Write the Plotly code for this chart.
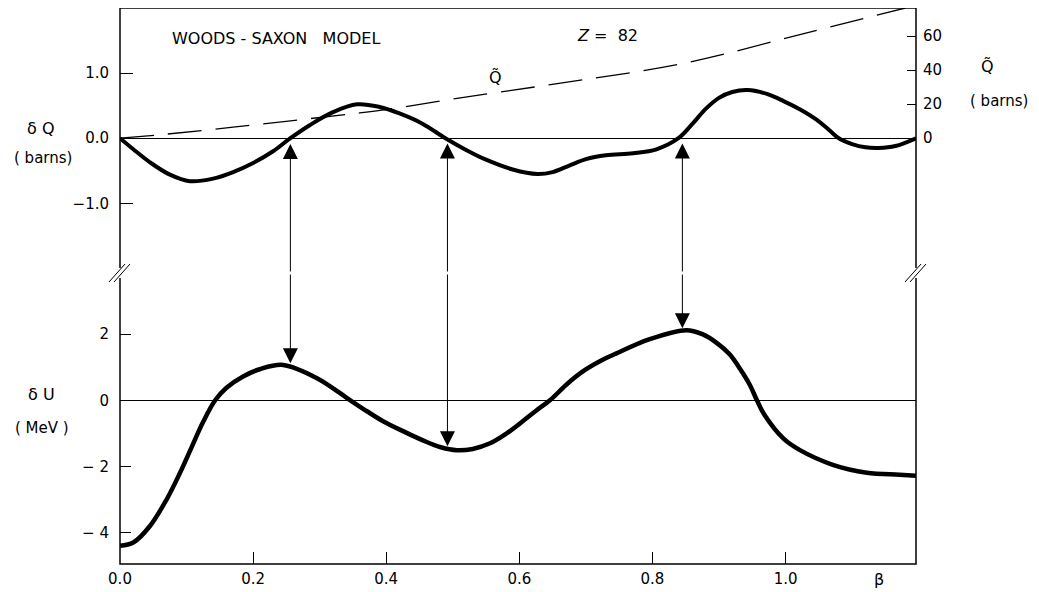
import plotly.graph_objects as go

# ---------------- data ----------------
beta_dq = [0.0, 0.02, 0.045, 0.075, 0.105, 0.14, 0.17, 0.20, 0.23, 0.256, 0.285,
           0.32, 0.356, 0.39, 0.42, 0.455, 0.489, 0.52, 0.55, 0.59, 0.627, 0.65,
           0.675, 0.70, 0.73, 0.771, 0.806, 0.839, 0.86, 0.88, 0.90, 0.92, 0.943,
           0.972, 0.997, 1.022, 1.047, 1.065, 1.08, 1.10, 1.12, 1.14, 1.165, 1.196]
delta_q = [0.0, -0.17, -0.37, -0.56, -0.66, -0.62, -0.52, -0.38, -0.20, 0.0, 0.20,
           0.40, 0.52, 0.48, 0.38, 0.22, 0.0, -0.18, -0.33, -0.48, -0.55, -0.52,
           -0.42, -0.32, -0.26, -0.23, -0.17, 0.0, 0.22, 0.45, 0.62, 0.71, 0.74,
           0.68, 0.57, 0.44, 0.28, 0.13, 0.0, -0.09, -0.14, -0.15, -0.12, 0.0]

beta_qt = [0.0, 0.07, 0.17, 0.346, 0.396, 0.5, 0.647, 0.847, 1.023, 1.18]
q_tilde = [0.0, 2.4, 6.5, 14.2, 16.6, 23.0, 31.5, 44.0, 61.0, 76.5]

beta_du = [0.0, 0.02, 0.045, 0.07, 0.09, 0.108, 0.125, 0.143, 0.16, 0.185, 0.21,
           0.245, 0.296, 0.346, 0.371, 0.396, 0.426, 0.456, 0.482, 0.506, 0.53,
           0.556, 0.581, 0.606, 0.626, 0.646, 0.671, 0.696, 0.721, 0.746, 0.796,
           0.851, 0.875, 0.897, 0.916, 0.931, 0.946, 0.957, 0.968, 0.997, 1.021,
           1.071, 1.122, 1.171, 1.196]
delta_u = [-4.4, -4.3, -3.8, -3.0, -2.2, -1.4, -0.65, 0.0, 0.38, 0.72, 0.94,
           1.07, 0.67, 0.0, -0.33, -0.64, -0.94, -1.22, -1.42, -1.51, -1.47,
           -1.3, -1.0, -0.62, -0.3, 0.0, 0.48, 0.88, 1.18, 1.42, 1.85,
           2.12, 2.0, 1.73, 1.39, 0.97, 0.48, 0.0, -0.43, -1.16, -1.5,
           -1.95, -2.19, -2.25, -2.28]

# arrows connecting zeros of dQ with extrema of dU
arrow_beta = [0.256, 0.492, 0.845]
arrow_dq_tip = [-0.09, -0.08, -0.08]
arrow_du_tip = [1.12, -1.39, 2.18]

x_ticks = [0.0, 0.2, 0.4, 0.6, 0.8, 1.0]
x_ticktext = ["0.0", "0.2", "0.4", "0.6", "0.8", "1.0"]
dq_ticks = [-1.0, 0.0, 1.0]
dq_ticktext = ["\u22121.0", "0.0", "1.0"]
qt_ticks = [0, 20, 40, 60]
qt_ticktext = ["0", "20", "40", "60"]
du_ticks = [-4, -2, 0, 2]
du_ticktext = ["\u2212 4", "\u2212 2", "0", "2"]

# ---------------- layout geometry ----------------
# the page body adds an 8px offset, so the figure is 8px smaller than the window
W, H = 1031, 584
ML, MT = 112, 0
PW, PH = 796, 556
MR, MB = W - ML - PW, H - MT - PH
REF_L, REF_B = 120, 563          # plot-area corner in window pixels
SPLIT = (REF_B - 272) / PH       # break between the two panels
X_RANGE = [0.0, 1.196]
DQ_RANGE = [-2.07, 2.0]
QT_RANGE = [-79.2, 76.5]
DU_RANGE = [-4.95, 3.85]

FONT = "DejaVu Sans"
FS = 15


def px(x):
    return (x - REF_L) / PW


def py(y):
    return (REF_B - y) / PH


fig = go.Figure()

fig.add_trace(go.Scatter(x=beta_qt, y=q_tilde, xaxis="x", yaxis="y3", mode="lines",
                         line=dict(color="black", width=1.3, dash="34px,14px", shape="spline"),
                         showlegend=False, hoverinfo="skip"))
fig.add_trace(go.Scatter(x=beta_dq, y=delta_q, xaxis="x", yaxis="y2", mode="lines",
                         line=dict(color="black", width=4, shape="spline", smoothing=1.0),
                         showlegend=False))
fig.add_trace(go.Scatter(x=beta_du, y=delta_u, xaxis="x", yaxis="y", mode="lines",
                         line=dict(color="black", width=4.5, shape="spline", smoothing=1.0),
                         showlegend=False))

annotations = []
for b, tq, tu in zip(arrow_beta, arrow_dq_tip, arrow_du_tip):
    annotations.append(dict(x=b, y=tq, xref="x", yref="y2", ax=b, ay=DQ_RANGE[0],
                            axref="x", ayref="y2", showarrow=True, arrowhead=2,
                            arrowsize=3.0, arrowwidth=1, arrowcolor="black", text=""))
    annotations.append(dict(x=b, y=tu, xref="x", yref="y", ax=b, ay=DU_RANGE[1],
                            axref="x", ayref="y", showarrow=True, arrowhead=2,
                            arrowsize=3.0, arrowwidth=1, arrowcolor="black", text=""))


def label(text, x, y, size=FS, xanchor="center"):
    annotations.append(dict(text=text, x=px(x), y=py(y), xref="paper", yref="paper",
                            showarrow=False, xanchor=xanchor, yanchor="middle",
                            font=dict(family=FONT, size=size, color="black")))


label("WOODS - SAXON \u00a0 MODEL", 276, 37, size=16)
label("<i>Z</i> = \u00a082", 607, 34, size=16)
label("Q\u0303", 495, 76, size=16)
label("Q\u0303", 987, 65, size=16)
label("( barns)", 999, 100)
label("\u03b4 Q", 40, 127, size=16)
label("( barns)", 43, 157)
label("\u03b4 U", 41, 393, size=16)
label("( MeV )", 42, 427)
annotations.append(dict(text="\u03b2", x=1.14, y=0, xref="x", yref="paper",
                        yshift=-15, showarrow=False, yanchor="middle",
                        font=dict(family=FONT, size=FS + 1, color="black")))

shapes = [dict(type="rect", xref="paper", yref="paper", x0=0, x1=1, y0=0, y1=1,
               line=dict(color="black", width=1.5), layer="above")]
for xa in (0, 1):
    shapes.append(dict(type="line", xref="paper", yref="paper", xsizemode="pixel",
                       ysizemode="pixel", xanchor=xa, yanchor=SPLIT,
                       x0=0, x1=0, y0=-5, y1=5,
                       line=dict(color="white", width=4), layer="above"))
    for off in (-3, 2):
        shapes.append(dict(type="line", xref="paper", yref="paper", xsizemode="pixel",
                           ysizemode="pixel", xanchor=xa, yanchor=SPLIT,
                           x0=off - 8, x1=off + 8, y0=-9, y1=9,
                           line=dict(color="black", width=1), layer="above"))

tickfont = dict(family=FONT, size=FS, color="black")

fig.update_layout(
    width=W, height=H,
    margin=dict(l=ML, r=MR, t=MT, b=MB, autoexpand=False),
    paper_bgcolor="white", plot_bgcolor="white",
    showlegend=False,
    xaxis=dict(domain=[0, 1], range=X_RANGE, anchor="y", tickvals=x_ticks,
               ticktext=x_ticktext, ticks="inside", ticklen=12, tickwidth=1,
               tickcolor="black", showgrid=False, zeroline=False, showline=False,
               tickfont=tickfont, ticklabelstandoff=4),
    yaxis=dict(domain=[0, SPLIT], range=DU_RANGE, anchor="x", tickvals=du_ticks,
               ticktext=du_ticktext, ticks="inside", ticklen=11, tickwidth=1,
               tickcolor="black", showgrid=False, zeroline=True, zerolinecolor="black",
               zerolinewidth=1.2, showline=False, tickfont=tickfont,
               ticklabelstandoff=10),
    yaxis2=dict(domain=[SPLIT, 1], range=DQ_RANGE, anchor="x", tickvals=dq_ticks,
                ticktext=dq_ticktext, ticks="inside", ticklen=13, tickwidth=1,
                tickcolor="black", showgrid=False, zeroline=True, zerolinecolor="black",
                zerolinewidth=1.2, showline=False, tickfont=tickfont,
                ticklabelstandoff=10),
    yaxis3=dict(overlaying="y2", side="right", range=QT_RANGE, anchor="x",
                tickvals=qt_ticks, ticktext=qt_ticktext, ticks="inside", ticklen=9,
                tickwidth=1, tickcolor="black", showgrid=False, zeroline=False,
                showline=False, tickfont=tickfont, ticklabelstandoff=6),
    annotations=annotations,
    shapes=shapes,
)

fig.write_html("out.html")
